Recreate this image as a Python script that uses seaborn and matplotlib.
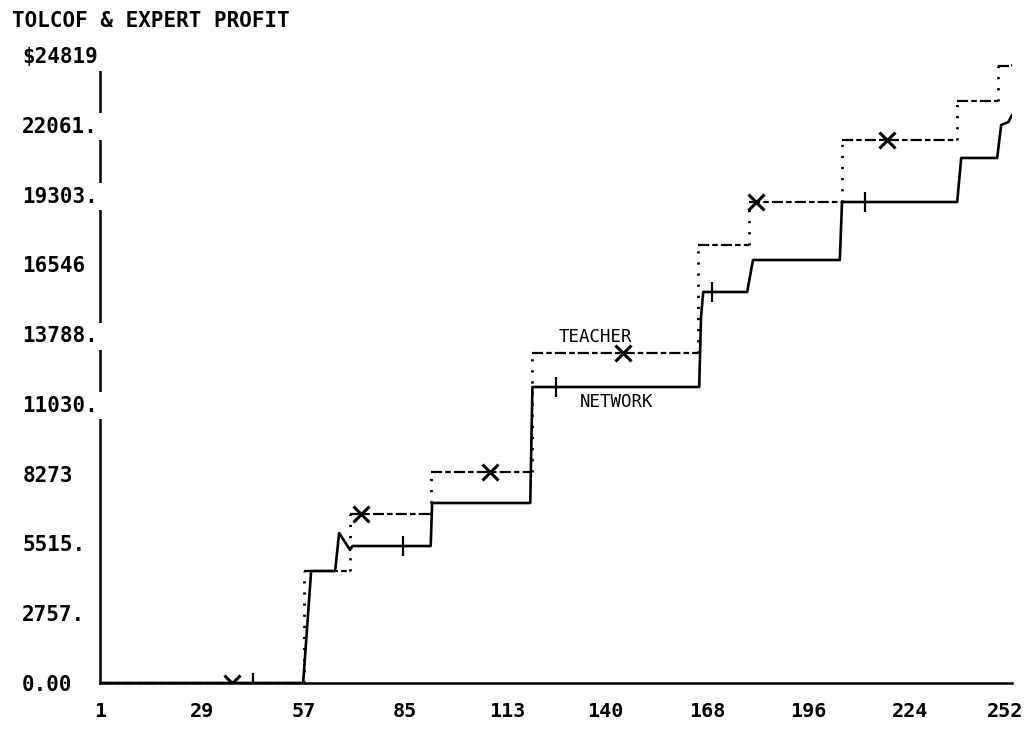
import matplotlib
matplotlib.use("Agg")
import matplotlib.pyplot as plt
import matplotlib.transforms as mtransforms
import seaborn as sns

# network (solid) profit curve
network_x = [1, 56.9, 59.1, 65.7, 66.8, 69.8, 70.5, 92.0, 92.4, 119.4, 120.0, 165.9,
             166.4, 167.0, 179.1, 180.7, 204.6, 205.2, 236.9, 238.0, 247.9, 249.0, 251.0, 252]
network_y = [0, 0, 4426, 4426, 5928, 5256, 5414, 5414, 7114, 7114, 11698, 11698,
             14465, 15453, 15453, 16717, 16717, 19009, 19009, 20749, 20749, 22053, 22171, 22448]
network_tick_x = [43.1, 84.4, 126.5, 169.3, 211.6]
network_tick_y = [0, 5414, 11698, 15453, 19009]

# teacher (expert) steps
teacher_start = [1, 57.0, 69.8, 92.2, 120.0, 165.5, 179.6, 205.2, 236.9, 248.2]
teacher_end = [57.0, 69.8, 92.2, 120.0, 165.5, 179.6, 205.2, 236.9, 248.2, 252]
teacher_level = [0, 4426, 6679, 8339, 13042, 17310, 19009, 21460, 23001, 24384]
teacher_last = 24780
teacher_mark_x = [37.4, 72.8, 108.4, 145.0, 181.6, 217.6]
teacher_mark_y = [0, 6679, 8339, 13042, 19009, 21460]

x_ticks = [1, 29, 57, 85, 113, 140, 168, 196, 224, 252]
y_ticks = [0, 2757, 5515, 8273, 11030, 13788, 16546, 19303, 22061, 24819]
y_labels = ["0.00", "2757.", "5515.", "8273", "11030.", "13788.", "16546", "19303.", "22061.", "$24819"]

sns.set_style("white")
plt.rcParams['font.family'] = ['DejaVu Sans Mono']

fig = plt.figure(figsize=(10.28, 7.33), dpi=100)
ax = fig.add_axes([0.0973, 0.0682, 0.8872, 0.8568])

sns.lineplot(x=network_x, y=network_y, sort=False, estimator=None,
             color='black', linewidth=1.9, ax=ax)
ax.plot(network_tick_x, network_tick_y, ls='none', marker='|', ms=15, mew=1.6, color='black')

ax.hlines(teacher_level, teacher_start, teacher_end, colors='black',
          linewidth=1.6, linestyles=[(0, (5, 1.4, 2.5, 1.4))])
jump_x = teacher_end[:-1] + [252]
jump_lo = teacher_level
jump_hi = teacher_level[1:] + [teacher_last]
ax.vlines(jump_x, jump_lo, jump_hi, colors='black', linewidth=2.0,
          linestyles=[(0, (0.8, 3.2))])
ax.plot(teacher_mark_x, teacher_mark_y, ls='none', marker='x', ms=11, mew=2.2, color='black')

ax.text(137.3, 13674, "TEACHER", ha='center', va='center', fontsize=12.5, color='black')
ax.text(143.3, 11105, "NETWORK", ha='center', va='center', fontsize=12.5, color='black')

ax.set_xlim(1, 252)
ax.set_ylim(0, 24819)
for s in ['top', 'right']:
    ax.spines[s].set_visible(False)
for s in ['left', 'bottom']:
    ax.spines[s].set_linewidth(1.8)
    ax.spines[s].set_color('black')

ax.set_xticks(x_ticks)
ax.set_xticklabels([str(v) for v in x_ticks], fontsize=14.5, fontweight='bold')
ax.tick_params(axis='x', length=11, width=1.5, direction='out', pad=3, colors='black')
last = ax.get_xticklabels()[-1]
last.set_transform(last.get_transform() +
                   mtransforms.ScaledTranslation(-7 / 100, 0, fig.dpi_scale_trans))

ax.set_yticks(y_ticks)
ax.set_yticklabels(y_labels, fontsize=15, fontweight='bold', ha='left',
                   bbox=dict(facecolor='white', edgecolor='none', pad=2.5))
ax.tick_params(axis='y', length=6, width=1.5, direction='out', pad=50, colors='black')
ax.yaxis.set_zorder(3)

fig.text(0.0117, 0.985, "TOLCOF & EXPERT PROFIT", ha='left', va='top',
         fontsize=15, fontweight='bold', color='black')

fig.savefig("out.png", dpi=100, facecolor='white')
